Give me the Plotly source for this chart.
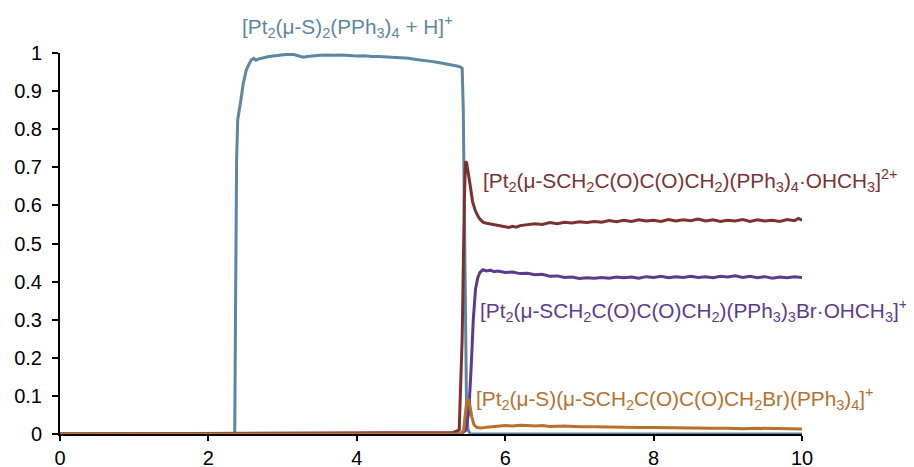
import plotly.graph_objects as go

# ---- data ----
blue_x = [0, 2.355, 2.365, 2.38, 2.395, 2.41, 2.44, 2.47, 2.51, 2.55, 2.58, 2.61, 2.64, 2.67, 2.72, 2.8, 2.9, 3.0, 3.08, 3.15, 3.22, 3.28, 3.33, 3.4, 3.5, 3.6, 3.7, 3.8, 3.9, 4.0, 4.1, 4.2, 4.3, 4.4, 4.5, 4.6, 4.7, 4.8, 4.9, 5.0, 5.1, 5.2, 5.28, 5.35, 5.40, 5.42, 5.435, 5.45, 5.465, 5.48, 5.50, 5.53, 6.0, 7.0, 8.0, 9.0, 10.0]
blue_y = [0, 0, 0.30, 0.72, 0.825, 0.84, 0.88, 0.92, 0.955, 0.972, 0.982, 0.986, 0.981, 0.984, 0.987, 0.99, 0.993, 0.995, 0.997, 0.996, 0.993, 0.989, 0.991, 0.993, 0.994, 0.995, 0.994, 0.995, 0.993, 0.992, 0.993, 0.991, 0.991, 0.990, 0.989, 0.987, 0.986, 0.983, 0.981, 0.978, 0.975, 0.972, 0.969, 0.966, 0.963, 0.960, 0.85, 0.55, 0.2, 0.05, 0.01, 0, 0, 0, 0, 0, 0]

red_x = [0, 5.20, 5.30, 5.38, 5.42, 5.45, 5.465, 5.48, 5.50, 5.53, 5.56, 5.60, 5.65, 5.70, 5.75, 5.80, 5.85, 5.90, 5.95, 6.0, 6.05, 6.1, 6.15, 6.2, 6.3, 6.4, 6.5, 6.6, 6.7, 6.8, 6.9, 7.0, 7.1, 7.2, 7.3, 7.4, 7.5, 7.6, 7.7, 7.8, 7.9, 8.0, 8.1, 8.2, 8.3, 8.4, 8.5, 8.6, 8.7, 8.8, 8.9, 9.0, 9.1, 9.2, 9.3, 9.4, 9.5, 9.6, 9.7, 9.8, 9.9, 9.95, 10.0]
red_y = [0, 0.002, 0.004, 0.01, 0.25, 0.62, 0.715, 0.712, 0.69, 0.65, 0.61, 0.585, 0.566, 0.556, 0.553, 0.551, 0.549, 0.547, 0.545, 0.544, 0.542, 0.545, 0.543, 0.547, 0.549, 0.552, 0.550, 0.555, 0.552, 0.556, 0.554, 0.557, 0.555, 0.558, 0.556, 0.560, 0.557, 0.561, 0.558, 0.562, 0.559, 0.561, 0.558, 0.563, 0.559, 0.562, 0.560, 0.564, 0.559, 0.562, 0.558, 0.561, 0.559, 0.563, 0.558, 0.562, 0.559, 0.561, 0.558, 0.563, 0.560, 0.566, 0.561]

purple_x = [0, 5.40, 5.47, 5.51, 5.54, 5.57, 5.60, 5.63, 5.66, 5.70, 5.75, 5.80, 5.85, 5.90, 6.0, 6.1, 6.2, 6.3, 6.4, 6.5, 6.6, 6.7, 6.8, 6.9, 7.0, 7.1, 7.2, 7.3, 7.4, 7.5, 7.6, 7.7, 7.8, 7.9, 8.0, 8.1, 8.2, 8.3, 8.4, 8.5, 8.6, 8.7, 8.8, 8.9, 9.0, 9.1, 9.2, 9.3, 9.4, 9.5, 9.6, 9.7, 9.8, 9.9, 10.0]
purple_y = [0, 0, 0.01, 0.06, 0.17, 0.30, 0.38, 0.41, 0.424, 0.431, 0.428, 0.430, 0.426, 0.428, 0.424, 0.425, 0.421, 0.422, 0.418, 0.419, 0.414, 0.415, 0.411, 0.412, 0.408, 0.410, 0.409, 0.411, 0.409, 0.412, 0.410, 0.412, 0.409, 0.413, 0.411, 0.414, 0.410, 0.413, 0.411, 0.414, 0.411, 0.413, 0.410, 0.414, 0.412, 0.415, 0.411, 0.414, 0.410, 0.413, 0.409, 0.412, 0.410, 0.413, 0.411]

orange_x = [0, 5.40, 5.44, 5.46, 5.48, 5.50, 5.52, 5.55, 5.58, 5.62, 5.68, 5.75, 5.85, 6.0, 6.1, 6.2, 6.3, 6.4, 6.5, 6.6, 6.8, 7.0, 7.2, 7.4, 7.6, 7.8, 8.0, 8.2, 8.4, 8.6, 8.8, 9.0, 9.2, 9.4, 9.6, 9.8, 10.0]
orange_y = [0, 0, 0.01, 0.05, 0.085, 0.093, 0.08, 0.045, 0.024, 0.017, 0.016, 0.018, 0.019, 0.022, 0.021, 0.023, 0.022, 0.021, 0.022, 0.020, 0.021, 0.019, 0.019, 0.018, 0.018, 0.017, 0.017, 0.016, 0.016, 0.015, 0.015, 0.015, 0.014, 0.015, 0.014, 0.014, 0.013]

series_names = [
    "[Pt<sub>2</sub>(μ-S)<sub>2</sub>(PPh<sub>3</sub>)<sub>4</sub> + H]<sup>+</sup>",
    "[Pt<sub>2</sub>(μ-SCH<sub>2</sub>C(O)C(O)CH<sub>2</sub>)(PPh<sub>3</sub>)<sub>4</sub>·OHCH<sub>3</sub>]<sup>2+</sup>",
    "[Pt<sub>2</sub>(μ-SCH<sub>2</sub>C(O)C(O)CH<sub>2</sub>)(PPh<sub>3</sub>)<sub>3</sub>Br·OHCH<sub>3</sub>]<sup>+</sup>",
    "[Pt<sub>2</sub>(μ-S)(μ-SCH<sub>2</sub>C(O)C(O)CH<sub>2</sub>Br)(PPh<sub>3</sub>)<sub>4</sub>]<sup>+</sup>",
]

colors = ["#5b87a1", "#7c3131", "#5c3b8e", "#b8702f"]

X_MAX = 10.0

fig = go.Figure()
for xs, ys, c, n in [(blue_x, blue_y, colors[0], series_names[0]),
                     (red_x, red_y, colors[1], series_names[1]),
                     (purple_x, purple_y, colors[2], series_names[2]),
                     (orange_x, orange_y, colors[3], series_names[3])]:
    fig.add_trace(go.Scatter(x=xs, y=ys, mode="lines", name=n,
                             line=dict(color=c, width=3), showlegend=False))

# label anchor positions in data units: (x, y, xanchor)
label_pos = [(3.88, 1.07, "center"), (5.68, 0.666, "left"), (5.64, 0.325, "left"), (5.58, 0.094, "left")]
for (lx, ly, xa), n, c in zip(label_pos, series_names, colors):
    fig.add_annotation(x=lx / X_MAX, y=ly, xref="paper", yref="paper", text=n, showarrow=False,
                       xanchor=xa, yanchor="middle",
                       font=dict(family="Liberation Sans, Arial", size=20.8, color=c))

fig.update_layout(
    width=906, height=459,
    margin=dict(l=52, r=112, t=45, b=33),
    plot_bgcolor="white", paper_bgcolor="white",
    font=dict(family="Liberation Sans, Arial", size=20, color="black"),
    xaxis=dict(range=[0, X_MAX], dtick=2, tick0=0, showgrid=False, zeroline=False,
               showline=True, linecolor="black", linewidth=2, automargin=False,
               ticks="outside", ticklen=5, tickwidth=2, tickcolor="black"),
    yaxis=dict(range=[0, 1], dtick=0.1, tick0=0, showgrid=False, zeroline=False,
               showline=True, linecolor="black", linewidth=2, automargin=False,
               ticks="outside", ticklen=6, tickwidth=2, tickcolor="black",
               ticklabelstandoff=6),
)

fig.write_html("out.html")
